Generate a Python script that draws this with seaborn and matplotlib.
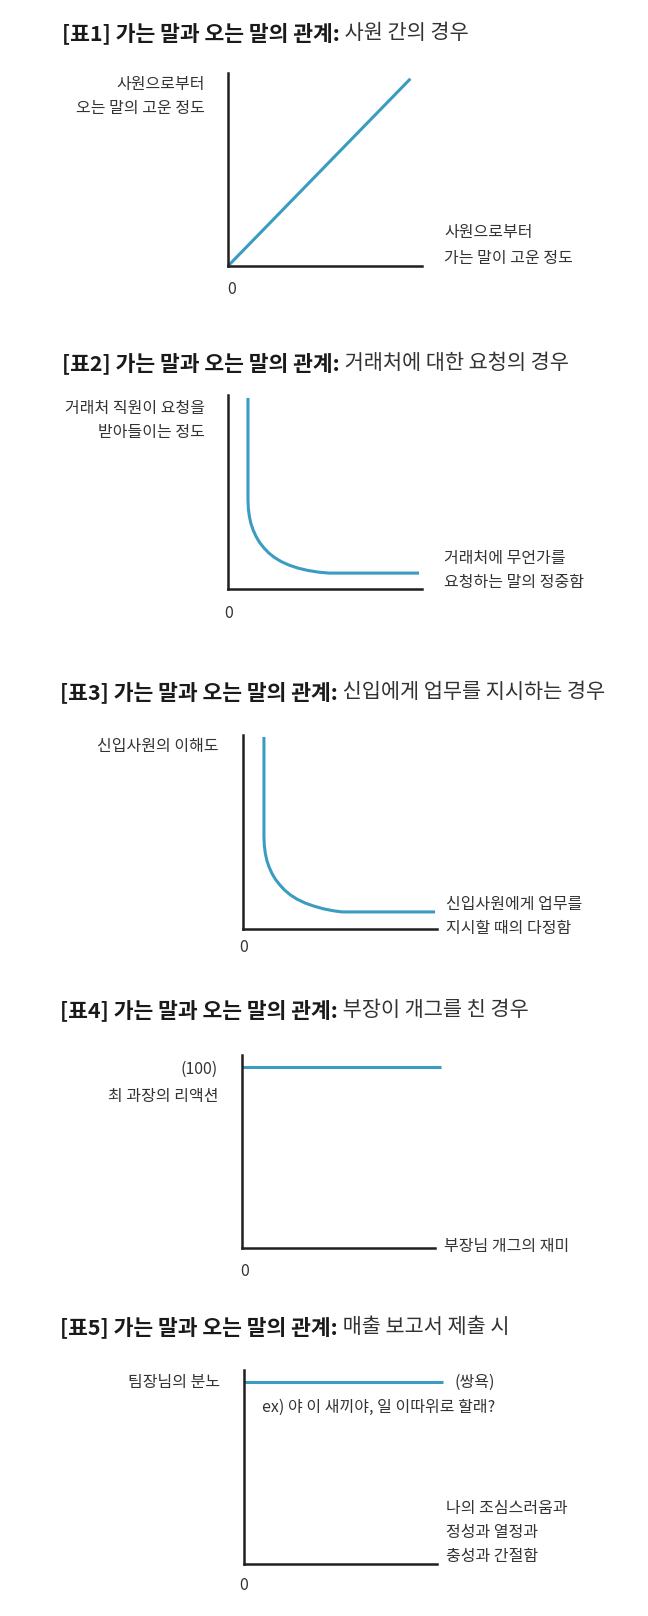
import matplotlib
matplotlib.use("Agg")
import matplotlib.pyplot as plt
import seaborn as sns

sns.set_theme(style="white")
plt.rcParams['font.family'] = ['Noto Sans CJK KR', 'DejaVu Sans']

# Data (axis units 0-100)
p1_x = [0, 94]
p1_y = [0, 97]

p2_x = [10.3, 10.3, 10.5, 11.0, 11.8, 13.0, 14.5, 16.3, 18.5, 21.0, 24.0, 27.5, 31.5, 36.0, 41.0, 46.5, 52.0, 98.5]
p2_y = [98.5, 45.9, 41.5, 37.5, 33.8, 30.3, 27.0, 24.0, 21.2, 18.6, 16.2, 14.1, 12.3, 10.8, 9.6, 8.7, 8.2, 8.2]

p3_x = [10.8, 10.8, 11.0, 11.5, 12.3, 13.5, 15.0, 16.8, 19.0, 21.5, 24.5, 28.0, 32.0, 36.5, 41.5, 46.5, 51.0, 99.0]
p3_y = [99.0, 47.4, 43.0, 39.0, 35.3, 31.8, 28.5, 25.5, 22.7, 20.0, 17.5, 15.3, 13.4, 11.8, 10.4, 9.4, 8.8, 8.8]

p4_x = [0, 103]
p4_y = [94, 94]

p5_x = [0, 103]
p5_y = [94, 94]

title_bold = "[표{}] 가는 말과 오는 말의 관계:"
title_rest = [" 사원 간의 경우", " 거래처에 대한 요청의 경우", " 신입에게 업무를 지시하는 경우",
              " 부장이 개그를 친 경우", " 매출 보고서 제출 시"]

W, H = 648, 1616
LINE = "#3a9cc0"
AXC = "#231f20"
TXT = "#333333"

fig = plt.figure(figsize=(W / 100, H / 100), dpi=100)
fig.patch.set_facecolor("white")

# background axes in pixel coordinates, for all the text
bg = fig.add_axes([0, 0, 1, 1])
bg.set_xlim(0, W)
bg.set_ylim(H, 0)
bg.axis("off")


def make_axes(left, right, top, bottom):
    ax = fig.add_axes([left / W, 1 - bottom / H, (right - left) / W, (bottom - top) / H])
    ax.set_xlim(0, 100)
    ax.set_ylim(0, 100)
    ax.set_xticks([])
    ax.set_yticks([])
    ax.set_facecolor("none")
    for s in ["top", "right"]:
        ax.spines[s].set_visible(False)
    for s in ["left", "bottom"]:
        ax.spines[s].set_color(AXC)
        ax.spines[s].set_linewidth(1.8)
    return ax


def label(x, y, s, ha="left", size=11.5):
    bg.text(x, y, s, fontsize=size, color=TXT, ha=ha, va="center")


def two_part_title(i, x, y):
    t = bg.text(x, y, title_bold.format(i + 1), fontsize=15.5, fontweight="bold",
                color="#1a1a1a", ha="left", va="center")
    bg.annotate(title_rest[i], xy=(1, 0.5), xycoords=t, fontsize=15, color="#333333",
                ha="left", va="center", annotation_clip=False)


def curve(ax, xs, ys):
    sns.lineplot(x=xs, y=ys, ax=ax, color=LINE, linewidth=2.2, sort=False,
                 estimator=None, clip_on=False, solid_joinstyle="round",
                 solid_capstyle="butt")
    ax.set_xlabel("")
    ax.set_ylabel("")


# Panel 1
two_part_title(0, 62, 33)
ax1 = make_axes(228, 422, 73, 266)
curve(ax1, p1_x, p1_y)
label(205, 85, "사원으로부터", ha="right")
label(205, 108, "오는 말의 고운 정도", ha="right")
label(444, 233, "사원으로부터")
label(444, 258, "가는 말이 고운 정도")
label(232, 289, "0", ha="center")

# Panel 2
two_part_title(1, 62, 363)
ax2 = make_axes(228, 422, 395, 589)
curve(ax2, p2_x, p2_y)
label(205, 409, "거래처 직원이 요청을", ha="right")
label(205, 432, "받아들이는 정도", ha="right")
label(444, 558, "거래처에 무언가를")
label(444, 583, "요청하는 말의 정중함")
label(229, 613, "0", ha="center")

# Panel 3
two_part_title(2, 60, 692)
ax3 = make_axes(243, 437, 735, 929)
curve(ax3, p3_x, p3_y)
label(219, 747, "신입사원의 이해도", ha="right")
label(446, 904, "신입사원에게 업무를")
label(446, 928, "지시할 때의 다정함")
label(244, 947, "0", ha="center")

# Panel 4
two_part_title(3, 60, 1010)
ax4 = make_axes(242, 435, 1055, 1248)
curve(ax4, p4_x, p4_y)
label(218, 1069, "(100)", ha="right")
label(218, 1097, "최 과장의 리액션", ha="right")
label(444, 1246, "부장님 개그의 재미")
label(245, 1271, "0", ha="center")

# Panel 5
two_part_title(4, 60, 1327)
ax5 = make_axes(244, 437, 1370, 1564)
curve(ax5, p5_x, p5_y)
label(220, 1383, "팀장님의 분노", ha="right")
label(454, 1382, "(쌍욕)")
label(262, 1407, "ex) 야 이 새끼야, 일 이따위로 할래?")
label(446, 1508, "나의 조심스러움과")
label(446, 1532, "정성과 열정과")
label(446, 1557, "충성과 간절함")
label(244, 1585, "0", ha="center")

fig.savefig("out.png", dpi=100, facecolor="white")
